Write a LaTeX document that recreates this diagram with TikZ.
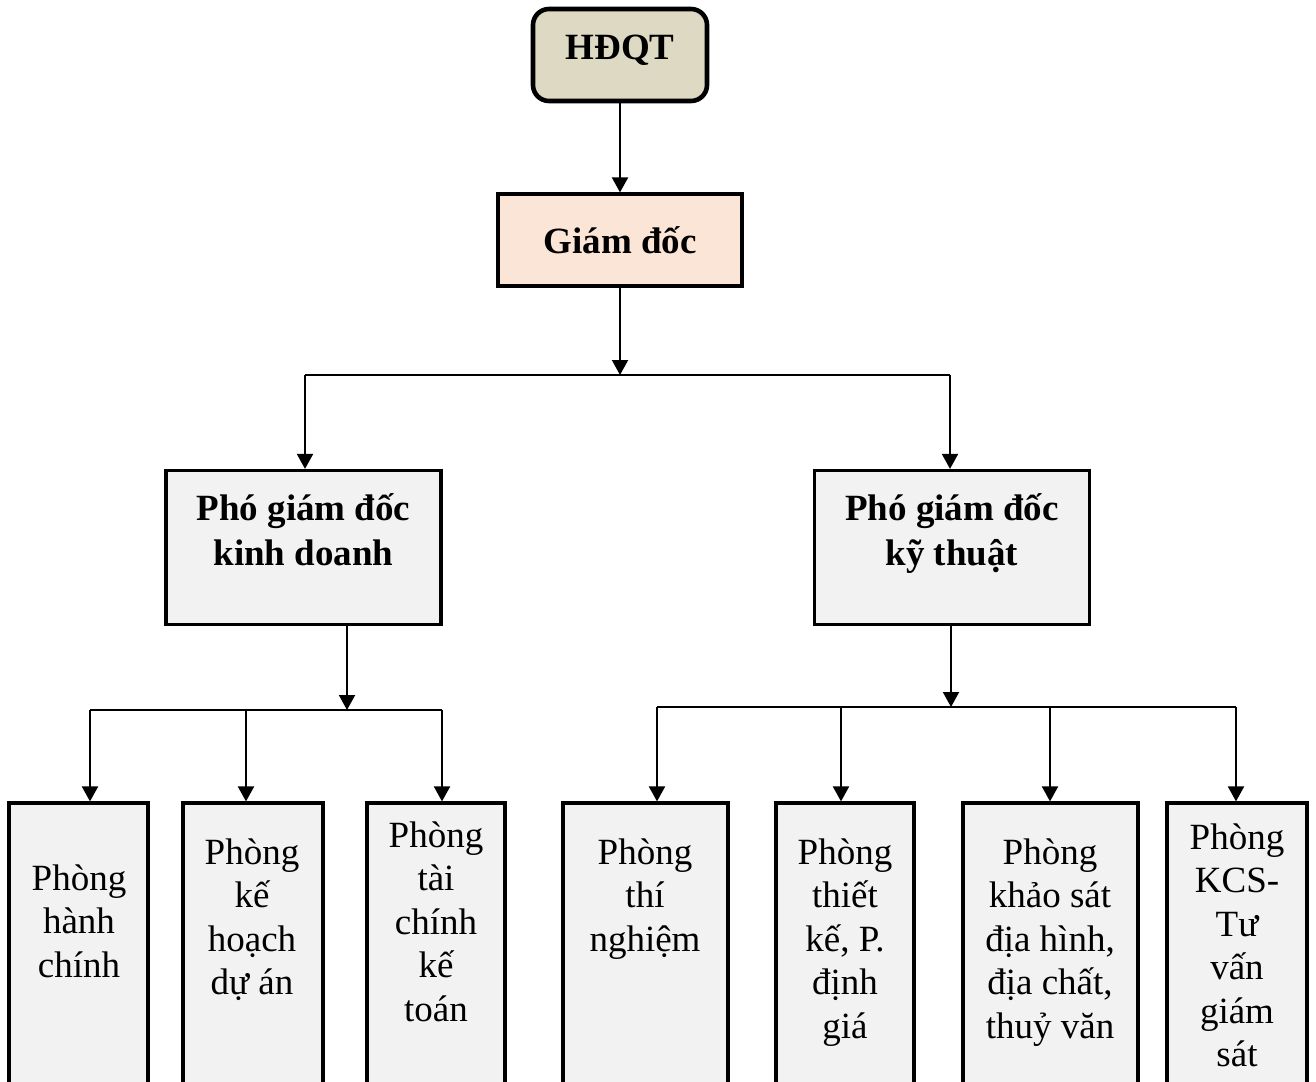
\documentclass[tikz,border=0pt]{standalone}
\usepackage{fontspec}
\setmainfont{Liberation Serif}
\usetikzlibrary{arrows.meta}
\definecolor{beige}{HTML}{DDD9C3}
\definecolor{peach}{HTML}{FBE5D6}
\definecolor{lgray}{HTML}{F2F2F2}
\newcommand{\topstrut}{\rule{0pt}{20pt}}
\tikzset{
  x=0.5pt, y=-0.5pt,
  basefont/.style={font=\fontsize{18.5}{21.75}\selectfont},
  hdqtbox/.style={draw, line width=2.3pt, rounded corners=8pt, fill=beige, minimum width=87pt, minimum height=46pt, inner sep=0pt, text height=12pt, text depth=7pt, font=\bfseries\fontsize{18.5}{21.75}\selectfont},
  gdbox/.style={draw, line width=1.6pt, fill=peach, minimum width=122pt, minimum height=46pt, inner sep=0pt, font=\bfseries\fontsize{18.5}{21.75}\selectfont},
  pgdbox/.style={draw, line width=1.6pt, fill=lgray, minimum width=137.5pt, minimum height=77pt, inner sep=0pt},
  roombox/.style={draw, line width=1.6pt, fill=lgray, minimum height=148.5pt, inner sep=0pt},
  boldtxt/.style={align=center, inner sep=0pt, anchor=north, font=\bfseries\fontsize{18.5}{22.5}\selectfont},
  roomtxt/.style={align=center, inner sep=0pt, anchor=north, basefont},
  conn/.style={line width=0.9pt},
  arr/.style={line width=1pt, -{Triangle[width=8pt,length=7.5pt]}},
}
\begin{document}
\begin{tikzpicture}
\useasboundingbox (0,0) rectangle (1316,1081);
% top levels
\node[hdqtbox] (hdqt) at (620,55) {HĐQT};
\node[gdbox] (gd) at (620,240) {Giám đốc};
\node[pgdbox] (pkd) at (303.5,547.5) {};
\node[boldtxt] (pkdt) at (303.5,480) {\topstrut Phó giám đốc\\kinh doanh};
\node[pgdbox] (pkt) at (952,547.5) {};
\node[boldtxt] (pktt) at (952,480) {\topstrut Phó giám đốc\\kỹ thuật};
% bottom rooms
\node[roombox, minimum width=69.5pt] (r1) at (78.5,951.5) {};
\node[roombox, minimum width=70pt] (r2) at (253,951.5) {};
\node[roombox, minimum width=69pt] (r3) at (436,951.5) {};
\node[roombox, minimum width=82.5pt] (r4) at (645.5,951.5) {};
\node[roombox, minimum width=69pt] (r5) at (845,951.5) {};
\node[roombox, minimum width=87.5pt] (r6) at (1050.5,951.5) {};
\node[roombox, minimum width=70pt] (r7) at (1237,951.5) {};
\node[roomtxt] (t1) at (79,850) {\topstrut Phòng\\hành\\chính};
\node[roomtxt] (t2) at (252,824) {\topstrut Phòng\\kế\\hoạch\\dự án};
\node[roomtxt] (t3) at (436,807) {\topstrut Phòng\\tài\\chính\\kế\\toán};
\node[roomtxt] (t4) at (645,824) {\topstrut Phòng\\thí\\nghiệm};
\node[roomtxt] (t5) at (845,824) {\topstrut Phòng\\thiết\\kế, P.\\định\\giá};
\node[roomtxt] (t6) at (1050,824) {\topstrut Phòng\\khảo sát\\địa hình,\\địa chất,\\thuỷ văn};
\node[roomtxt] (t7) at (1237,809) {\topstrut Phòng\\KCS-\\Tư\\vấn\\giám\\sát};
% bar coordinates
\coordinate (j0) at (620,375);
\coordinate (bl0) at (305,375);
\coordinate (br0) at (950,375);
\coordinate (j1) at (347,710);
\coordinate (a1) at (90,710);
\coordinate (a2) at (246,710);
\coordinate (a3) at (442,710);
\coordinate (j2) at (951,707);
\coordinate (c1) at (657,707);
\coordinate (c2) at (841,707);
\coordinate (c3) at (1050,707);
\coordinate (c4) at (1236,707);
% connectors
\draw[arr] (hdqt) -- (gd);
\draw[arr] (gd) -- (j0);
\draw[conn] (bl0) -- (br0);
\draw[arr] (bl0) -- (bl0 |- pkd.north);
\draw[arr] (br0) -- (br0 |- pkt.north);
\draw[arr] (j1 |- pkd.south) -- (j1);
\draw[conn] (a1) -- (a3);
\draw[arr] (a1) -- (a1 |- r1.north);
\draw[arr] (a2) -- (a2 |- r2.north);
\draw[arr] (a3) -- (a3 |- r3.north);
\draw[arr] (j2 |- pkt.south) -- (j2);
\draw[conn] (c1) -- (c4);
\draw[arr] (c1) -- (c1 |- r4.north);
\draw[arr] (c2) -- (c2 |- r5.north);
\draw[arr] (c3) -- (c3 |- r6.north);
\draw[arr] (c4) -- (c4 |- r7.north);
\end{tikzpicture}
\end{document}
